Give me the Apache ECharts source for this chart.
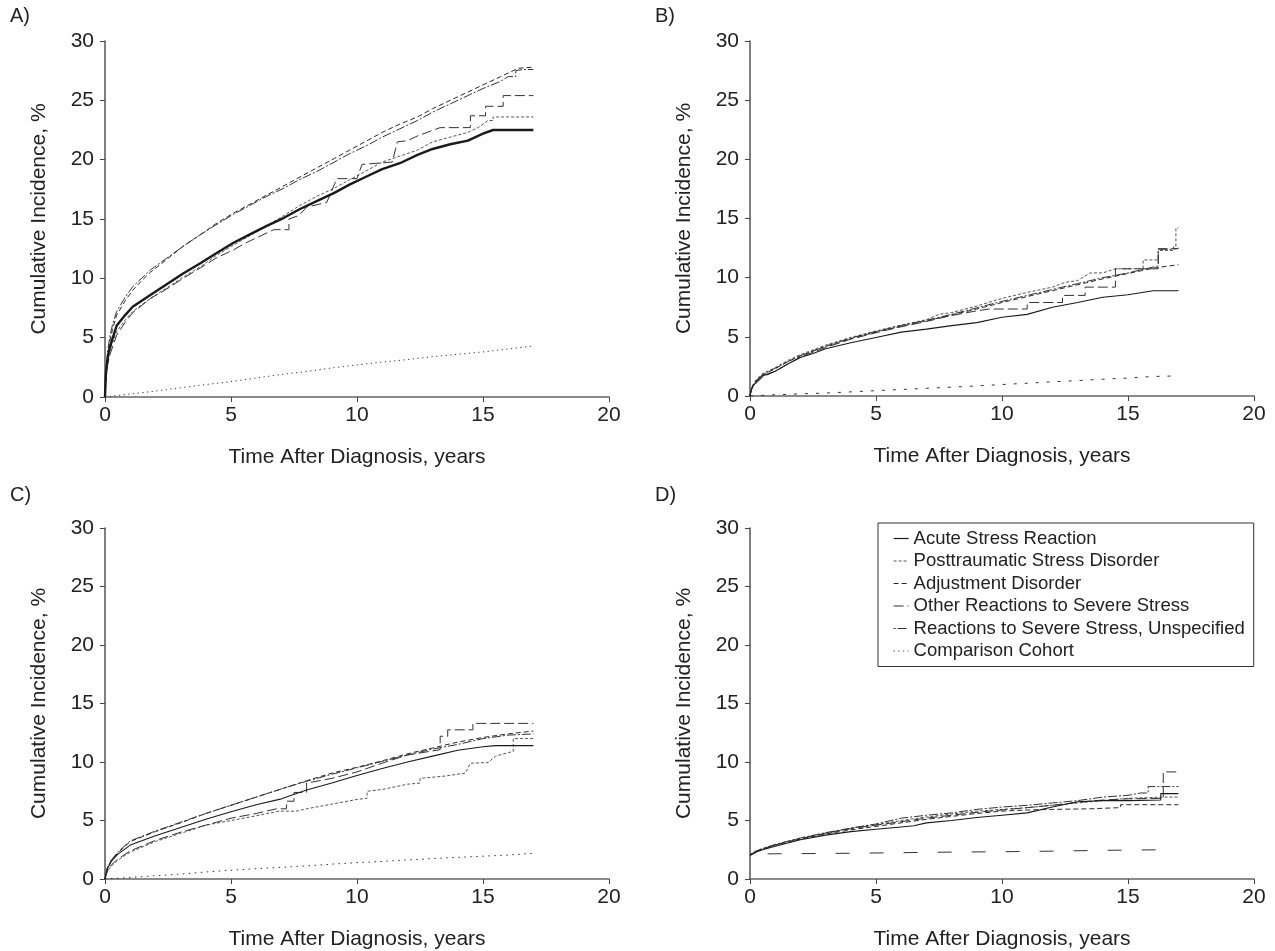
<!DOCTYPE html>
<html>
<head>
<meta charset="utf-8">
<script src="https://cdn.jsdelivr.net/npm/echarts@6/dist/echarts.min.js"></script>
<style>
  html, body { margin: 0; padding: 0; background: #fff; }
  #chart { width: 1275px; height: 951px; }
</style>
</head>
<body>
<div id="chart"></div>
<script>
// cumulative incidence curves, [years, %]
const xTicks = [0, 5, 10, 15, 20]
const yTicks = [0, 5, 10, 15, 20, 25, 30]
const panelLabels = ['A)', 'B)', 'C)', 'D)']
const names = ['Acute Stress Reaction', 'Posttraumatic Stress Disorder', 'Adjustment Disorder',
  'Other Reactions to Severe Stress', 'Reactions to Severe Stress, Unspecified', 'Comparison Cohort']

// panel A
const aAcute = [[0,0],[0.03,1.8],[0.08,2.8],[0.15,3.8],[0.25,4.6],[0.46,6.0],[0.8,6.9],[1.1,7.6],[1.8,8.6],[2.45,9.5],[3.1,10.4],[3.8,11.3],[4.4,12.1],[5.1,13.0],[5.75,13.7],[6.4,14.4],[7.1,15.1],[7.7,15.8],[8.4,16.5],[9.1,17.2],[9.7,17.9],[10.4,18.6],[11.0,19.2],[11.7,19.7],[12.4,20.4],[13.0,20.9],[13.7,21.3],[14.4,21.6],[15.0,22.2],[15.4,22.5],[17,22.5]]
const aPtsd = [[0,0],[0.05,2.0],[0.1,3.0],[0.2,4.0],[0.46,5.5],[0.8,6.5],[1.1,7.2],[1.8,8.3],[2.45,9.2],[3.1,10.1],[3.8,11.0],[4.4,11.9],[5.1,12.8],[5.75,13.6],[6.4,14.4],[7.1,15.3],[7.7,16.1],[8.4,16.9],[9.1,17.6],[9.7,18.3],[10.4,19.1],[11.0,19.8],[11.7,20.3],[12.4,20.8],[13.0,21.5],[13.7,21.9],[14.4,22.3],[14.8,22.7],[15.2,23.3],[15.4,23.3],[15.4,23.6],[17,23.6]]
const aAdjust = [[0,0],[0.05,2.5],[0.1,3.4],[0.2,4.8],[0.3,5.7],[0.46,6.9],[0.8,8.1],[1.1,9.0],[1.5,9.9],[1.8,10.5],[2.45,11.6],[3.1,12.7],[3.8,13.7],[4.4,14.6],[5.1,15.5],[5.8,16.3],[6.4,17.0],[7.1,17.8],[7.7,18.5],[8.4,19.3],[9.1,20.1],[9.7,20.8],[10.4,21.6],[11.0,22.3],[11.7,23.0],[12.4,23.6],[13.0,24.3],[13.7,25.0],[14.4,25.7],[15.0,26.3],[15.7,27.0],[16.1,27.4],[16.4,27.7],[17,27.8]]
const aOther = [[0,0],[0.05,1.8],[0.1,2.7],[0.2,3.6],[0.46,5.2],[0.8,6.3],[1.1,7.1],[1.8,8.3],[2.45,9.1],[3.1,10.0],[3.8,10.9],[4.4,11.7],[5.1,12.4],[5.6,13.0],[6.2,13.6],[6.7,14.1],[7.3,14.1],[7.3,15.0],[7.7,15.3],[8.0,16.0],[8.8,16.4],[9.0,17.4],[9.2,18.4],[10.0,18.4],[10.2,19.6],[11.4,19.8],[11.6,21.5],[12.0,21.6],[12.4,22.0],[13.3,22.7],[14.5,22.7],[14.5,23.7],[15.1,23.7],[15.1,24.5],[15.8,24.5],[15.8,25.4],[17,25.4]]
const aUnspec = [[0,0],[0.05,2.8],[0.1,3.8],[0.2,5.2],[0.3,6.1],[0.46,7.2],[0.8,8.4],[1.1,9.3],[1.5,10.1],[1.8,10.7],[2.45,11.7],[3.1,12.7],[3.8,13.7],[4.4,14.5],[5.1,15.4],[5.8,16.2],[6.4,16.9],[7.1,17.6],[7.7,18.3],[8.4,19.0],[9.1,19.8],[9.7,20.5],[10.4,21.2],[11.0,21.9],[11.7,22.6],[12.4,23.3],[13.0,24.0],[13.7,24.7],[14.4,25.4],[15.0,26.0],[15.7,26.6],[16.0,27.0],[16.3,27.0],[16.3,27.5],[16.6,27.6],[17,27.6]]
const aComp = [[0,0],[1,0.25],[2,0.5],[3,0.78],[4,1.05],[5,1.3],[6,1.6],[7,1.9],[8,2.15],[9,2.45],[10,2.7],[11,2.95],[12,3.15],[13,3.4],[14,3.6],[15,3.8],[16,4.05],[17,4.3]]

// panel B
const bAcute = [[0,0],[0.05,0.5],[0.1,0.8],[0.25,1.2],[0.5,1.7],[1,2.1],[1.5,2.7],[2,3.25],[2.5,3.6],[3,4.0],[4,4.5],[5,4.95],[6,5.4],[7,5.65],[8,5.95],[9,6.2],[10,6.65],[11,6.9],[12,7.5],[13,7.9],[14,8.35],[15,8.55],[16,8.9],[17,8.9]]
const bPtsd = [[0,0],[0.05,0.6],[0.1,0.9],[0.25,1.4],[0.5,1.9],[1,2.4],[1.5,3.0],[2,3.5],[3,4.3],[4,4.95],[5,5.5],[6,6.0],[7,6.45],[7.5,6.9],[8,7.05],[9,7.6],[10,8.25],[11,8.75],[12,9.2],[12.5,9.6],[13,9.75],[13.5,10.4],[14,10.4],[14.5,10.75],[15.6,10.75],[15.6,11.5],[16.2,11.5],[16.2,12.3],[16.8,12.3],[16.8,12.6],[16.9,12.6],[16.9,14.2],[17,14.2]]
const bAdjust = [[0,0],[0.05,0.5],[0.1,0.8],[0.25,1.3],[0.5,1.8],[1,2.3],[1.5,2.9],[2,3.4],[3,4.2],[4,4.85],[5,5.4],[6,5.9],[7,6.35],[8,6.85],[9,7.35],[10,7.9],[11,8.4],[12,8.9],[13,9.4],[14,9.9],[15,10.35],[16,10.8],[17,11.1]]
const bOther = [[0,0],[0.05,0.5],[0.1,0.7],[0.25,1.1],[0.5,1.6],[1,2.1],[1.5,2.7],[2,3.3],[3,4.1],[4,4.8],[5,5.35],[6,5.85],[7,6.3],[8,6.8],[9,7.2],[9.5,7.35],[11.0,7.35],[11.0,7.9],[12.4,7.9],[12.4,8.5],[13.3,8.5],[13.3,9.2],[14.5,9.2],[14.5,10.75],[16.2,10.75],[16.2,12.45],[17,12.45]]
const bUnspec = [[0,0],[0.05,0.5],[0.1,0.8],[0.25,1.3],[0.5,1.8],[1,2.35],[1.5,2.9],[2,3.4],[3,4.2],[4,4.9],[5,5.45],[6,5.95],[7,6.4],[8,6.9],[9,7.45],[10,8.0],[11,8.5],[12,9.0],[13,9.5],[14,10.0],[15,10.4],[16,10.9],[16.2,11.0],[16.2,12.4],[16.8,12.4],[17,12.5]]
const bComp = [[0,0],[1,0.1],[2,0.18],[3,0.25],[4,0.35],[5,0.45],[6,0.55],[7,0.65],[8,0.75],[9,0.85],[10,0.97],[11,1.08],[12,1.2],[13,1.3],[14,1.42],[15,1.52],[16,1.65],[17,1.7]]

// panel C
const cAcute = [[0,0],[0.05,0.5],[0.1,0.9],[0.25,1.5],[0.5,2.1],[1,2.9],[2,3.7],[3,4.4],[4,5.1],[5,5.75],[6,6.35],[7,6.85],[8,7.6],[9,8.2],[10,8.85],[11,9.45],[12,10.0],[13,10.5],[14,11.0],[15,11.3],[15.5,11.4],[17,11.4]]
const cPtsd = [[0,0],[0.05,0.4],[0.1,0.7],[0.25,1.1],[0.5,1.6],[1,2.3],[2,3.2],[3,3.9],[4,4.6],[5,5.0],[6,5.4],[6.9,5.8],[7.6,5.8],[8,6.0],[9,6.4],[10,6.8],[10.4,6.9],[10.4,7.5],[11,7.65],[12,8.1],[12.5,8.2],[12.5,8.6],[13.5,8.8],[14.3,9.05],[14.5,9.9],[15.2,9.95],[15.5,10.5],[16.0,10.8],[16.2,10.9],[16.2,12.0],[17,12.0]]
const cAdjust = [[0,0],[0.05,0.6],[0.1,1.0],[0.25,1.6],[0.5,2.2],[1,3.2],[2,4.05],[3,4.8],[4,5.6],[5,6.3],[6,7.0],[7,7.7],[8,8.4],[9,9.05],[10,9.55],[11,10.1],[12,10.7],[13,11.2],[14,11.7],[15,12.1],[16,12.4],[17,12.65]]
const cOther = [[0,0],[0.05,0.4],[0.1,0.7],[0.25,1.2],[0.5,1.7],[1,2.4],[2,3.3],[3,4.0],[4,4.6],[5,5.2],[6,5.6],[6.8,6.0],[7.2,6.0],[7.2,6.65],[7.5,6.65],[7.5,7.4],[8,7.4],[8,8.2],[9,8.6],[10,9.15],[11,9.9],[12,10.6],[13.3,11.05],[13.3,12.2],[13.6,12.2],[13.6,12.75],[14.6,12.75],[14.6,13.3],[17,13.3]]
const cUnspec = [[0,0],[0.05,0.6],[0.1,1.0],[0.25,1.6],[0.5,2.3],[1,3.25],[2,4.1],[3,4.85],[4,5.6],[5,6.3],[6,7.0],[7,7.7],[8,8.35],[9,8.95],[10,9.5],[11,10.05],[12,10.6],[13,11.1],[14,11.5],[15,12.0],[16,12.3],[17,12.4]]
const cComp = [[0,0],[1,0.13],[2,0.28],[3,0.42],[4,0.6],[5,0.75],[6,0.88],[7,1.0],[8,1.12],[9,1.27],[10,1.4],[11,1.5],[12,1.63],[13,1.75],[14,1.85],[15,1.95],[16,2.05],[17,2.2]]

// panel D
const dAcute = [[0,2.0],[0.25,2.3],[0.5,2.5],[1,2.8],[2,3.35],[3,3.75],[4,4.05],[5,4.25],[6,4.45],[6.5,4.55],[7,4.8],[8,5.0],[9,5.25],[10,5.45],[11,5.65],[12,6.15],[13,6.6],[14,6.7],[15,6.7],[16.3,6.75],[16.3,7.3],[17,7.3]]
const dPtsd = [[0,2.1],[0.25,2.4],[0.5,2.6],[1,2.95],[2,3.5],[3,3.95],[4,4.35],[5,4.65],[6,5.0],[7,5.3],[8,5.55],[9,5.8],[10,5.95],[11,6.1],[12,6.3],[13,6.5],[14,6.7],[14.5,6.8],[15,6.9],[16.4,7.0],[17,7.0]]
const dAdjust = [[0,2.05],[0.25,2.35],[0.5,2.55],[1,2.9],[2,3.4],[3,3.85],[4,4.2],[5,4.5],[6,4.8],[7,5.1],[8,5.35],[9,5.6],[10,5.8],[11,5.9],[12,5.95],[13.5,6.0],[14.7,6.1],[14.7,6.35],[17,6.35]]
const dOther = [[0,2.05],[0.25,2.35],[0.5,2.55],[1,2.9],[2,3.45],[3,3.9],[4,4.3],[5,4.6],[6,4.9],[7,5.2],[8,5.45],[9,5.7],[10,5.9],[11,6.1],[12,6.3],[13,6.55],[14,6.75],[15,6.85],[16.4,6.9],[16.4,9.15],[17,9.15]]
const dUnspec = [[0,2.1],[0.25,2.4],[0.5,2.6],[1,2.95],[2,3.5],[3,3.95],[4,4.35],[5,4.7],[6,5.2],[7,5.45],[8,5.65],[9,5.95],[10,6.15],[11,6.3],[12,6.5],[13,6.7],[14,7.0],[15,7.15],[15.5,7.35],[15.8,7.35],[15.8,7.9],[17,7.9]]
const dComp = [[0.7,2.15],[2,2.17],[4,2.2],[6,2.25],[8,2.3],[10,2.33],[12,2.38],[14,2.45],[16.5,2.5]]

const panels = [
  [aAcute, aPtsd, aAdjust, aOther, aUnspec, aComp],
  [bAcute, bPtsd, bAdjust, bOther, bUnspec, bComp],
  [cAcute, cPtsd, cAdjust, cOther, cUnspec, cComp],
  [dAcute, dPtsd, dAdjust, dOther, dUnspec, dComp]
]

const FONT = '"Liberation Sans", Arial, Helvetica, sans-serif'
const ink = '#222'

// line look per group
const styles = [
  { type: 'solid', color: '#1a1a1a', width: 1.1 },
  { type: [3, 2], color: '#555', width: 1 },
  { type: [5, 3], color: '#2a2a2a', width: 1 },
  { type: [10, 4], color: '#333', width: 1 },
  { type: [2, 2, 9, 2], color: '#333', width: 1 },
  { type: [1.2, 3.5], color: '#333', width: 1 }
]
// comparison cohort is drawn differently in each panel
const compDash = [[1.2, 3.5], [3, 8], [1.5, 4.5], [14, 20]]

const grids = [
  { left: 105, top: 41, width: 504, height: 356 },
  { left: 750, top: 41, width: 504, height: 355 },
  { left: 105, top: 528, width: 504, height: 353.5 },
  { left: 750, top: 528, width: 504, height: 353.5 }
]

const xAxes = grids.map((g, i) => ({
  type: 'value', gridIndex: i, min: 0, max: 20, interval: 5, offset: 4,
  name: 'Time After Diagnosis, years', nameLocation: 'middle', nameGap: 46,
  nameTextStyle: { fontFamily: FONT, fontSize: 21, color: ink },
  axisLine: { lineStyle: { color: '#666', width: 1.5 } },
  axisTick: { length: 5, lineStyle: { color: '#444' } },
  axisLabel: { margin: 4, fontFamily: FONT, fontSize: 21, color: ink },
  splitLine: { show: false }
}))

const yAxes = grids.map((g, i) => ({
  type: 'value', gridIndex: i, min: 0, max: 30, interval: 5, offset: 1,
  name: 'Cumulative Incidence, %', nameLocation: 'middle', nameGap: 54,
  nameTextStyle: { fontFamily: FONT, fontSize: 21, color: ink },
  axisLine: { show: true, lineStyle: { color: '#555', width: 1.5 } },
  axisTick: { show: true, length: 5, lineStyle: { color: '#444' } },
  axisLabel: { margin: 10, fontFamily: FONT, fontSize: 21, color: ink },
  splitLine: { show: false }
}))

const series = []
panels.forEach((curves, p) => {
  curves.forEach((data, k) => {
    const st = styles[k]
    series.push({
      name: names[k],
      type: 'line',
      xAxisIndex: p,
      yAxisIndex: p,
      data: data,
      symbol: 'none',
      showSymbol: false,
      silent: true,
      z: k === 0 ? 3 : 2,
      itemStyle: { color: st.color },
      lineStyle: {
        type: k === 5 ? compDash[p] : st.type,
        color: st.color,
        width: (p === 0 && k === 0) ? 2.4 : st.width
      }
    })
  })
})

const chart = echarts.init(document.getElementById('chart'))
chart.setOption({
  animation: false,
  backgroundColor: '#fff',
  title: panelLabels.map((t, i) => ({
    text: t,
    left: i % 2 === 0 ? 10 : 655,
    top: i < 2 ? 6 : 485,
    padding: 0,
    textStyle: { fontFamily: FONT, fontSize: 20, fontWeight: 'normal', color: ink }
  })),
  legend: {
    data: names,
    orient: 'vertical',
    left: 878,
    top: 523,
    padding: [6, 9, 6, 15],
    itemWidth: 15,
    itemHeight: 12,
    itemGap: 3.5,
    borderColor: '#333',
    borderWidth: 1,
    selectedMode: false,
    itemStyle: { opacity: 0 },
    lineStyle: { width: 1.2 },
    textStyle: { fontFamily: FONT, fontSize: 18.5, color: ink, lineHeight: 18 }
  },
  grid: grids,
  xAxis: xAxes,
  yAxis: yAxes,
  series: series
})
</script>
</body>
</html>
